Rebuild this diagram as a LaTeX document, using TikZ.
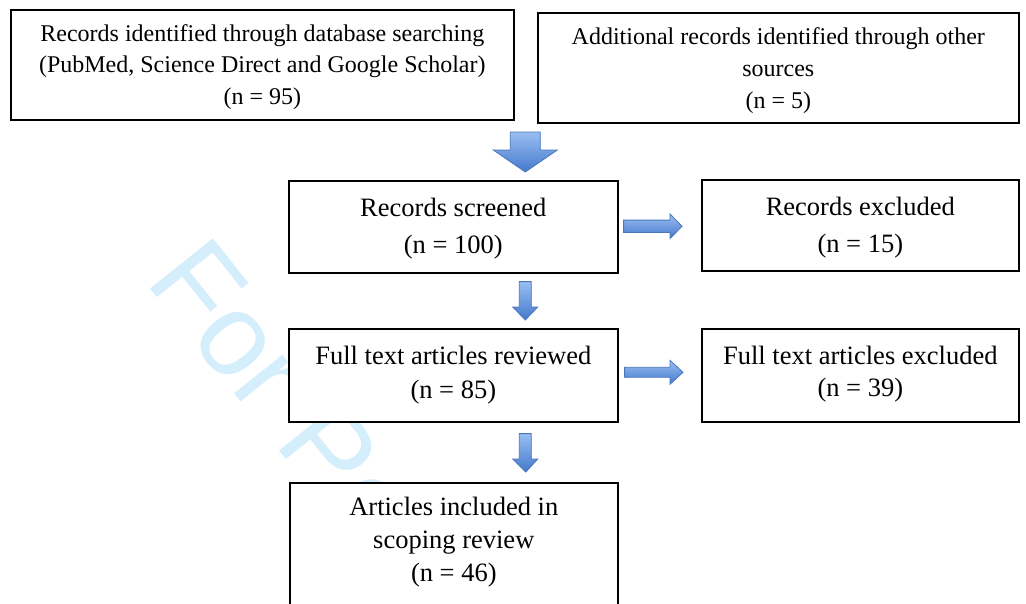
\documentclass[tikz,border=0pt]{standalone}
\usepackage{fontspec}
\setmainfont{Liberation Serif}
\newfontfamily\wmfont{Liberation Sans}
\usetikzlibrary{calc}

\definecolor{arrowtop}{RGB}{155,190,242}
\definecolor{arrowbot}{RGB}{68,122,204}
\definecolor{arrowline}{RGB}{74,118,188}
\definecolor{wmblue}{RGB}{212,238,251}

\tikzset{
  box/.style={draw=black, line width=1.6pt, fill=white, inner sep=0pt,
              anchor=north west},
  label text/.style={inner sep=0pt, align=center},
  smalltext/.style={font=\fontsize{24}{#1}\selectfont},
  bigtext/.style={font=\fontsize{26.5}{#1}\selectfont},
  blockarrow/.style={draw=arrowline, line width=0.8pt, line join=miter,
              top color=arrowtop, bottom color=arrowbot},
  watermark/.style={text=wmblue, inner sep=0pt, anchor=base west,
              font=\wmfont\fontsize{117}{117}\selectfont}
}

% vertical block arrow: start, tip, shaft half width, head half width, head length
\newcommand{\vblock}[5]{%
  \path[blockarrow] let \p1=(#1), \p2=(#2) in
    (\x1-#3,\y1) -- (\x1+#3,\y1) -- (\x1+#3,\y2+#5) -- (\x1+#4,\y2+#5)
    -- (\x2,\y2) -- (\x1-#4,\y2+#5) -- (\x1-#3,\y2+#5) -- cycle;}
% horizontal block arrow: start, tip, shaft half width, head half width, head length
\newcommand{\hblock}[5]{%
  \path[blockarrow] let \p1=(#1), \p2=(#2) in
    (\x1,\y1+#3) -- (\x2-#5,\y1+#3) -- (\x2-#5,\y1+#4) -- (\x2,\y1)
    -- (\x2-#5,\y1-#4) -- (\x2-#5,\y1-#3) -- (\x1,\y1-#3) -- cycle;}

\begin{document}
\begin{tikzpicture}[x=1pt, y=-1pt]
  \useasboundingbox (0,0) rectangle (1026,603);
  \clip (0,0) rectangle (1026,603);
  \fill[white] (0,0) rectangle (1026,603);

  % watermark behind the boxes
  \node[watermark, rotate=-51.4] (wm) at (144,281) {For Pe};

  % boxes
  \node[box, minimum width=503pt, minimum height=110pt] (db) at (10,9) {};
  \node[box, minimum width=481pt, minimum height=110pt] (other) at (537,12) {};
  \node[box, minimum width=329pt, minimum height=92pt] (screen) at (288,180) {};
  \node[box, minimum width=317pt, minimum height=91pt] (excl1) at (701,179) {};
  \node[box, minimum width=329pt, minimum height=93pt] (full) at (288,328) {};
  \node[box, minimum width=317pt, minimum height=93pt] (excl2) at (701,328) {};
  \node[box, minimum width=328pt, minimum height=135pt] (incl) at (289,482) {};

  % box texts
  \node[label text, smalltext=31.5] (db-t) at ($(db.center)+(0,2)$)
    {Records identified through database searching\\
     (PubMed, Science Direct and Google Scholar)\\(n = 95)};
  \node[label text, smalltext=32] (other-t) at ($(other.center)+(0,3)$)
    {Additional records identified through other\\sources\\(n = 5)};
  \node[label text, bigtext=37] (screen-t) at ($(screen.center)+(0,2)$)
    {Records screened\\(n = 100)};
  \node[label text, bigtext=37] (excl1-t) at ($(excl1.center)+(0,2)$)
    {Records excluded\\(n = 15)};
  \node[label text, bigtext=34] (full-t) at ($(full.center)+(0,0)$)
    {Full text articles reviewed\\(n = 85)};
  \node[label text, bigtext=32] (excl2-t) at ($(excl2.center)+(0,-1)$)
    {Full text articles excluded\\(n = 39)};
  \node[label text, bigtext=33] (incl-t) at ($(incl.center)+(0,-8)$)
    {Articles included in\\scoping review\\(n = 46)};

  % arrow end points
  \coordinate (a1s) at ($(screen.north)+(72,-48)$);
  \coordinate (a1e) at ($(screen.north)+(72,-8)$);
  \coordinate (a2s) at ($(screen.south)+(72,8)$);
  \coordinate (a2e) at ($(full.north)+(72,-8)$);
  \coordinate (a3s) at ($(full.south)+(72,11)$);
  \coordinate (a3e) at ($(incl.north)+(72,-10)$);
  \coordinate (r1s) at ($(screen.east)+(5,-0.5)$);
  \coordinate (r1e) at ($(screen.east -| excl1.west)+(-19,-0.5)$);
  \coordinate (r2s) at ($(full.east)+(6,-3)$);
  \coordinate (r2e) at ($(full.east -| excl2.west)+(-18,-3)$);

  % block arrows
  \vblock{a1s}{a1e}{15pt}{32pt}{22pt}
  \vblock{a2s}{a2e}{6pt}{12.5pt}{13pt}
  \vblock{a3s}{a3e}{6pt}{12.5pt}{13pt}
  \hblock{r1s}{r1e}{6.2pt}{12.3pt}{12pt}
  \hblock{r2s}{r2e}{5pt}{12pt}{13pt}
\end{tikzpicture}
\end{document}
